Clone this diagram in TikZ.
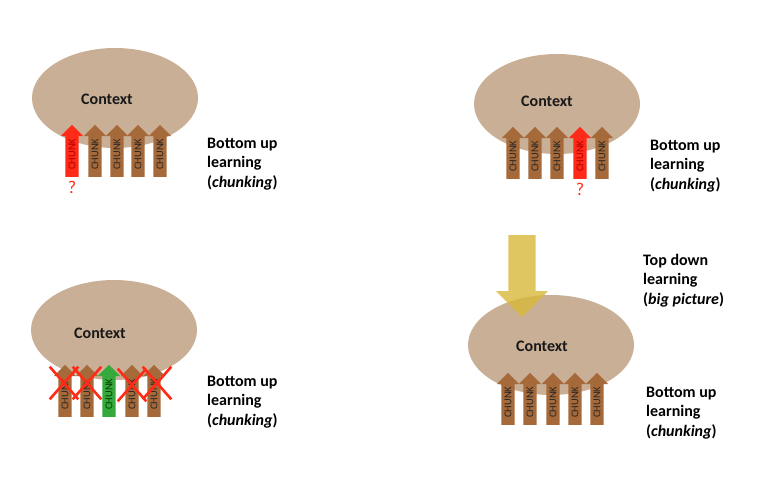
\documentclass[tikz,border=0pt]{standalone}
\usepackage{fontspec}
\setmainfont{Carlito}
\usetikzlibrary{shapes.geometric, shapes.arrows, shapes.misc, positioning}

\definecolor{ctxtan}{HTML}{C8AF95}
\definecolor{chunkbrown}{HTML}{A66A3A}
\definecolor{chunkred}{HTML}{FF2A17}
\definecolor{chunkgreen}{HTML}{35A93B}
\definecolor{topgold}{HTML}{D8B83A}

\begin{document}
\begin{tikzpicture}[
      x=1pt, y=-1pt,
      context/.style={ellipse, fill=ctxtan, minimum width=166pt, minimum height=100pt, inner sep=0pt},
      ctxtext/.style={font=\fontsize{16}{19}\selectfont\bfseries, text=black!90},
      chunk/.style={single arrow, rotate=90, anchor=tail, fill=chunkbrown, text=black!85,
        font=\fontsize{10.5}{10.5}\selectfont, minimum height=52pt, text height=6.8pt, text depth=0pt,
        inner ysep=3.1pt, inner xsep=1pt, single arrow head extend=4.5pt},
      redchunk/.style={chunk, fill=chunkred, text=red!70!black},
      greenchunk/.style={chunk, fill=chunkgreen, text=green!25!black},
      learn/.style={anchor=base west, align=left, inner sep=0pt, font=\fontsize{16}{19.5}\selectfont\bfseries},
      quest/.style={text=chunkred, font=\fontsize{18}{18}\selectfont},
      nope/.style={cross out, draw=chunkred, line width=2.6pt, minimum width=26pt, minimum height=30pt, inner sep=0pt},
      topdown/.style={single arrow, rotate=-90, anchor=tail, fill=topgold, fill opacity=0.8,
        minimum height=82pt, text height=0pt, text depth=0pt, inner ysep=13.5pt, inner xsep=0pt,
        single arrow head extend=12.5pt}
    ]
    \useasboundingbox (0,0) rectangle (764,480);

    % top left
    \node[context] (ctxA) at (115,98) {};
    \node[ctxtext] (ctxtxtA) at (107,99) {Context};
    \node[redchunk] (a1) at (72,177) {CHUNK};
    \node[chunk] (a2) at (95,177) {CHUNK};
    \node[chunk] (a3) at (117,177) {CHUNK};
    \node[chunk] (a4) at (138,177) {CHUNK};
    \node[chunk] (a5) at (160,177) {CHUNK};
    \node[quest] (qA) at (72,187) {?};
    \node[learn] (buA) at (207,187) {Bottom up\\learning\\(\textit{chunking})};

    % top right
    \node[context] (ctxB) at (557,104) {};
    \node[ctxtext] (ctxtxtB) at (547,101) {Context};
    \node[chunk] (b1) at (513,179) {CHUNK};
    \node[chunk] (b2) at (535,179) {CHUNK};
    \node[chunk] (b3) at (557,179) {CHUNK};
    \node[redchunk] (b4) at (580,179) {CHUNK};
    \node[chunk] (b5) at (602,179) {CHUNK};
    \node[quest] (qB) at (580,189) {?};
    \node[learn] (buB) at (650,189) {Bottom up\\learning\\(\textit{chunking})};

    % bottom left
    \node[context] (ctxC) at (114,330) {};
    \node[ctxtext] (ctxtxtC) at (100,333) {Context};
    \node[chunk] (c1) at (65,417) {CHUNK};
    \node[chunk] (c2) at (87,417) {CHUNK};
    \node[greenchunk] (c3) at (109,417) {CHUNK};
    \node[chunk] (c4) at (132,417) {CHUNK};
    \node[chunk] (c5) at (154,417) {CHUNK};
    \node[nope] (x1) at (64,383) {};
    \node[nope] (x2) at (87,383) {};
    \node[nope] (x4) at (132,385) {};
    \node[nope] (x5) at (157,383) {};
    \node[learn] (buC) at (207,425) {Bottom up\\learning\\(\textit{chunking})};

    % bottom right
    \node[context] (ctxD) at (551,345) {};
    \node[topdown] (td) at (522,235) {};
    \node[ctxtext] (ctxtxtD) at (542,346) {Context};
    \node[chunk] (d1) at (508,425) {CHUNK};
    \node[chunk] (d2) at (530,425) {CHUNK};
    \node[chunk] (d3) at (553,425) {CHUNK};
    \node[chunk] (d4) at (575,425) {CHUNK};
    \node[chunk] (d5) at (597,425) {CHUNK};
    \node[learn] (tdD) at (643,304) {Top down\\learning\\(\textit{big picture})};
    \node[learn] (buD) at (646,436) {Bottom up\\learning\\(\textit{chunking})};
  \end{tikzpicture}
\end{document}
